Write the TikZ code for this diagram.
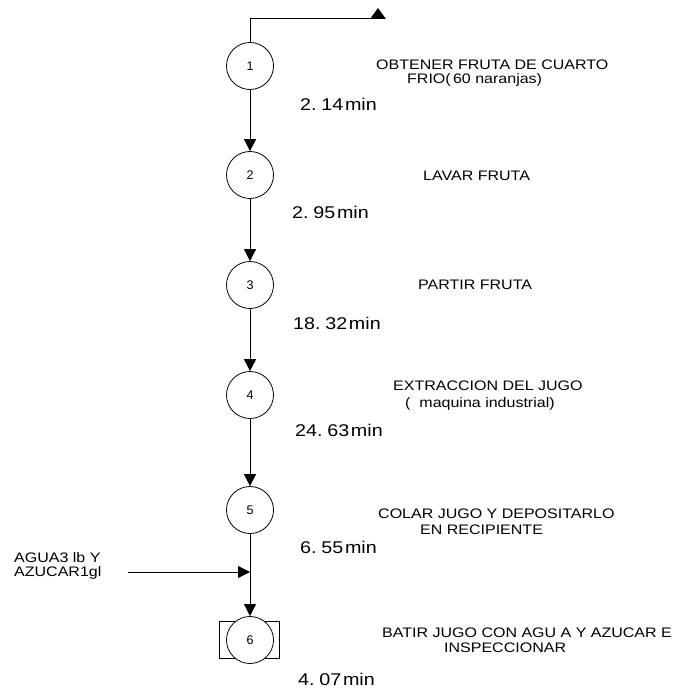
\documentclass[tikz,border=0pt]{standalone}
\usepackage{fontspec}
\setmainfont{Liberation Sans}
\newfontfamily\widefont[FakeStretch=1.16]{Liberation Sans}
\usetikzlibrary{arrows.meta}
\begin{document}
\begin{tikzpicture}[x=1pt,y=-1pt,
  op/.style={draw,circle,line width=0.8pt,minimum size=47pt,inner sep=0pt,font=\fontsize{12.5}{12.5}\selectfont},
  lbl/.style={anchor=west,inner sep=0pt,font=\widefont\fontsize{13.8}{12}\selectfont},
  tm/.style={anchor=west,inner sep=0pt,font=\widefont\fontsize{17}{17}\selectfont},
  flow/.style={line width=0.8pt,-{Triangle[length=12pt,width=12pt]}},
  plain/.style={line width=0.8pt}]
\useasboundingbox (0,0) rectangle (677,695);

% operations
\node[op] (c1) at (250,66) {1};
\node[op] (c2) at (250,175) {2};
\node[op] (c3) at (250,285) {3};
\node[op] (c4) at (250,395) {4};
\node[op] (c5) at (250,510) {5};
\node[draw,line width=0.8pt,minimum width=60pt,minimum height=37pt,inner sep=0pt] (r6) at (249,640) {};
\node[op,fill=white] (c6) at (250,640) {6};

% top exit
\coordinate (topend) at (378,18);
\draw[plain] (c1.north) |- (topend);
\fill (topend) ++(0,-10) -- ++(8,11) -- ++(-16,0) -- cycle;

% flow between operations
\draw[flow] (c1) -- (c2);
\draw[flow] (c2) -- (c3);
\draw[flow] (c3) -- (c4);
\draw[flow] (c4) -- (c5);
\draw[flow] (c5) -- (c6);

% added water and sugar
\coordinate (inStart) at (128,572);
\draw[flow] (inStart) -- (inStart -| c5);
\node[lbl] (in1) at (14,558) {AGUA3 lb Y};
\node[lbl] (in2) at (14,573) {AZUCAR1gl};

% descriptions
\node[lbl] (d1a) at (376,65) {OBTENER FRUTA DE CUARTO};
\node[lbl] (d1b) at (407,80) {FRIO(\,60 naranjas)};
\node[lbl] (d2) at (423,176) {LAVAR FRUTA};
\node[lbl] (d3) at (418,285) {PARTIR FRUTA};
\node[lbl] (d4a) at (393,386) {EXTRACCION DEL JUGO};
\node[lbl] (d4b) at (405,404) {(\ \ maquina industrial)};
\node[lbl] (d5a) at (378,514) {COLAR JUGO Y DEPOSITARLO};
\node[lbl] (d5b) at (420,530) {EN RECIPIENTE};
\node[lbl] (d6a) at (382,633) {BATIR JUGO CON AGU A Y AZUCAR E};
\node[lbl] (d6b) at (444,648) {INSPECCIONAR};

% times
\node[tm] (t1) at (300,104) {2.\hspace{0.28em}14\hspace{0.1em}min};
\node[tm] (t2) at (292,212) {2.\hspace{0.28em}95\hspace{0.1em}min};
\node[tm] (t3) at (293,323) {18.\hspace{0.28em}32\hspace{0.1em}min};
\node[tm] (t4) at (295,430) {24.\hspace{0.28em}63\hspace{0.1em}min};
\node[tm] (t5) at (300,547) {6.\hspace{0.28em}55\hspace{0.1em}min};
\node[tm] (t6) at (298,679) {4.\hspace{0.28em}07\hspace{0.1em}min};
\end{tikzpicture}
\end{document}
